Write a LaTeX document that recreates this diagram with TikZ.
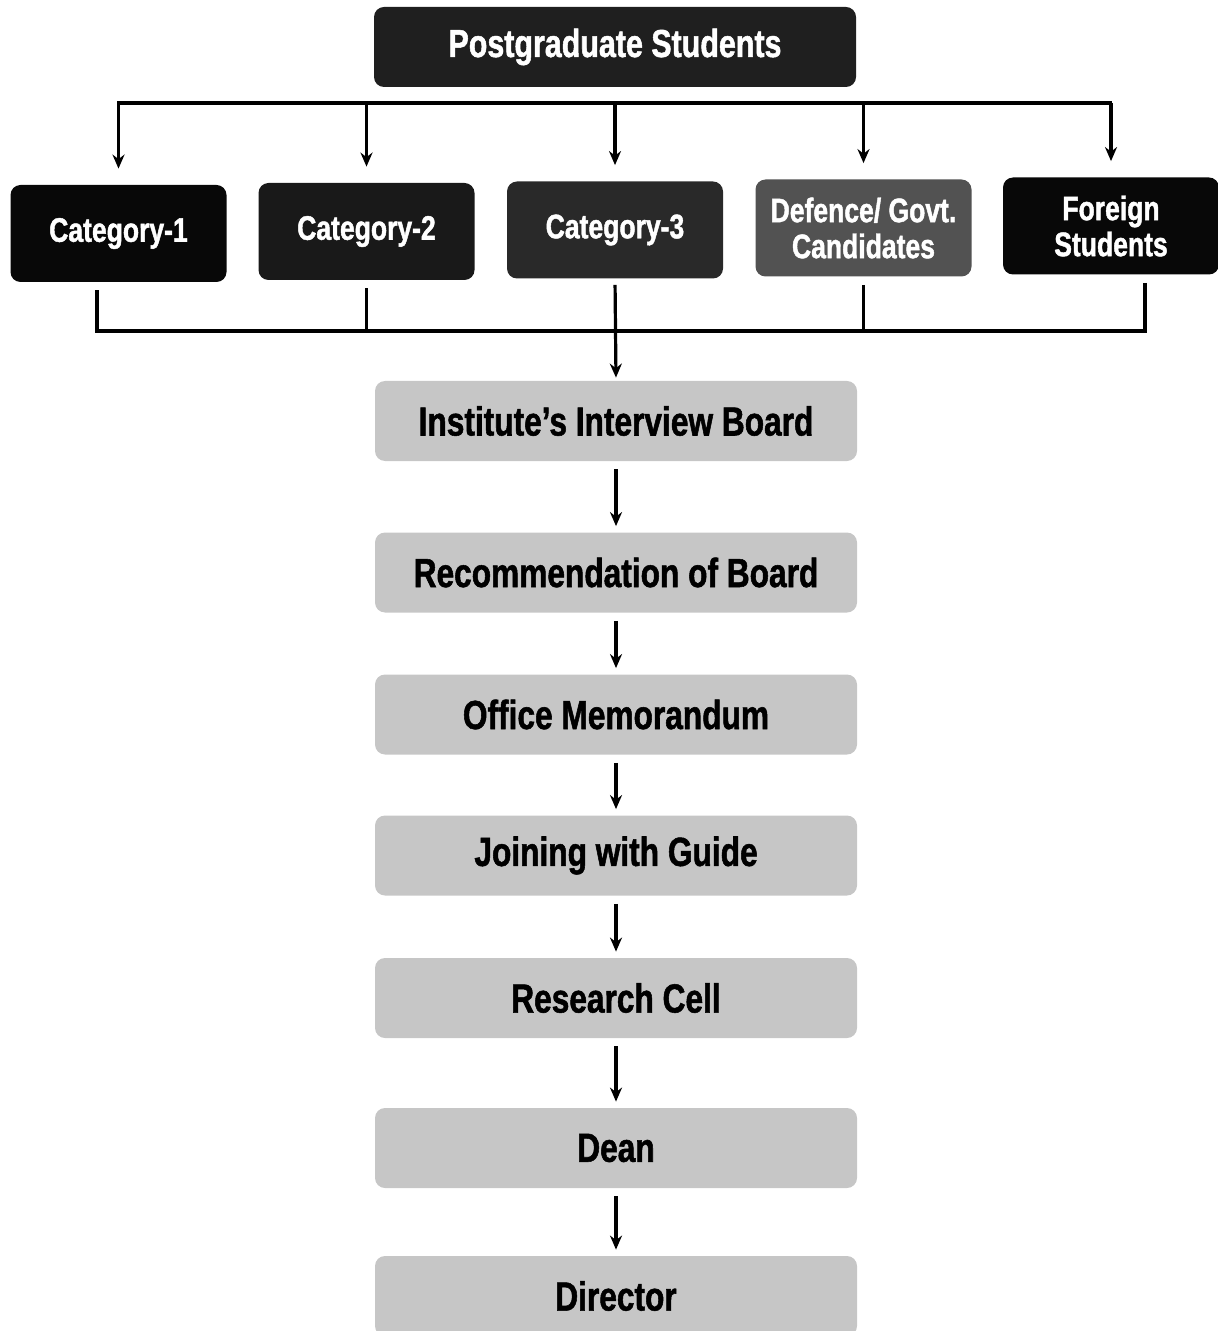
\documentclass[tikz,border=0pt]{standalone}
\usepackage{fontspec}
\setmainfont{Liberation Sans}[FakeStretch=0.78, BoldFeatures={FakeBold=1.3}]
\usetikzlibrary{arrows.meta}
\begin{document}
\begin{tikzpicture}[>={Stealth[length=7pt,width=6pt]}, x=0.5pt, y=-0.5pt,
    catbox/.style={rounded corners=5pt, text=white, align=center,
        font=\bfseries\fontsize{17}{18}\selectfont,
        minimum width=108pt, minimum height=48.5pt, inner sep=0pt},
    flowbox/.style={rounded corners=5pt, fill=boxgray, text=black,
        font=\bfseries\fontsize{20.3}{22}\selectfont,
        minimum width=241pt, minimum height=40pt, inner sep=0pt},
    link/.style={line width=1.6pt},
    flowarrow/.style={link, ->, shorten <=4pt, shorten >=3pt}]
\definecolor{boxgray}{HTML}{C6C6C6}
\useasboundingbox (0,0) rectangle (1217,1331);

% top node
\node[catbox, fill=black!88, minimum width=241pt, minimum height=40pt,
    font=\bfseries\fontsize{19.5}{21}\selectfont] (pg) at (615,47) {Postgraduate Students};

% categories
\node[catbox, fill=black!97] (cat1) at (118.5,233.5) {Category-1};
\node[catbox, fill=black!90] (cat2) at (366.5,231.5) {Category-2};
\node[catbox, fill=black!84] (cat3) at (615,230) {Category-3};
\node[catbox, fill=black!68] (def) at (863.5,228) {Defence/ Govt.\\Candidates};
\node[catbox, fill=black!97] (fgn) at (1111,226) {Foreign\\Students};

\coordinate (busL) at (117,103);
\coordinate (busR) at (1112,103);
\draw[link] (busL) -- (busR);
\foreach \n in {cat1,cat2,cat3,def,fgn}
    \draw[link,->,shorten >=8pt] (\n.north |- busL) -- (\n.north);

% flow
\node[flowbox] (b1) at (616,421) {Institute's Interview Board};
\node[flowbox] (b2) at (616,572.5) {Recommendation of Board};
\node[flowbox] (b3) at (616,714.5) {Office Memorandum};
\node[flowbox] (b4) at (616,855.5) {Joining with Guide};
\node[flowbox] (b5) at (616,998) {Research Cell};
\node[flowbox] (b6) at (616,1148) {Dean};
\node[flowbox] (b7) at (616,1296) {Director};

\coordinate (join) at (615,331);
\draw[link,shorten <=4pt] ([xshift=-10.75pt]cat1.south) |- (join);
\draw[link,shorten <=4pt] ([xshift=17pt]fgn.south) |- (join);
\draw[link,shorten <=4pt] (cat2.south) -- (cat2.south |- join);
\draw[link,shorten <=4pt] (def.south) -- (def.south |- join);
\draw[link,->,shorten <=3pt,shorten >=1.5pt] (cat3.south) -- (b1.north);

\draw[flowarrow] (b1) -- (b2);
\draw[flowarrow] (b2) -- (b3);
\draw[flowarrow] (b3) -- (b4);
\draw[flowarrow] (b4) -- (b5);
\draw[flowarrow] (b5) -- (b6);
\draw[flowarrow] (b6) -- (b7);
\end{tikzpicture}
\end{document}
